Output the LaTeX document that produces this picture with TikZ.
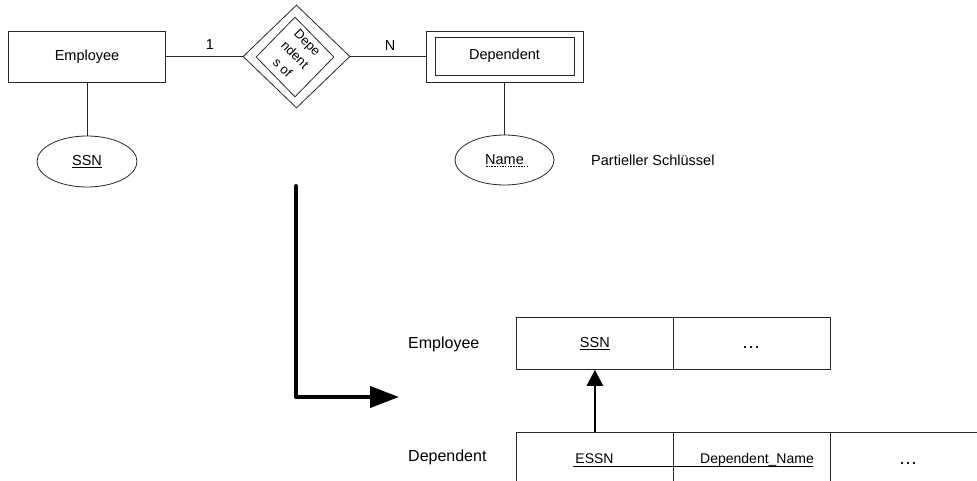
\documentclass[tikz,border=0pt]{standalone}
\usepackage{fontspec}
\setmainfont{Liberation Sans}
\usetikzlibrary{shapes.geometric,arrows.meta,calc}
\begin{document}
\begin{tikzpicture}[x=1pt,y=-1pt,
  thinln/.style={line width=0.8pt, draw=black!85},
  ent/.style={draw=black!85, line width=0.8pt, rectangle, inner sep=0pt, font=\fontsize{14.5}{17}\selectfont},
  attr/.style={draw=black!85, ellipse, line width=0.8pt, inner sep=0pt, font=\fontsize{14.5}{17}\selectfont},
  rel/.style={draw=black!85, diamond, line width=0.8pt, inner sep=0pt},
  lbl/.style={font=\fontsize{14.5}{17}\selectfont, inner sep=0pt},
  dotlbl/.style={font=\fontsize{19}{20}\selectfont, inner sep=0pt},
  biglbl/.style={font=\fontsize{16}{19}\selectfont, inner sep=0pt},
  rowlbl/.style={font=\fontsize{14}{17}\selectfont, inner sep=0pt},
  cell/.style={draw=black!85, line width=0.8pt, rectangle, inner sep=0pt, anchor=north west, font=\fontsize{14.5}{17}\selectfont},
]
\useasboundingbox (0,0) rectangle (977,481);
\clip (0,0) rectangle (977,481);

% ER part
\node[ent, minimum width=157pt, minimum height=51pt] (emp) at (87,56.5) {Employee};
\node[attr, minimum width=100pt, minimum height=51pt] (ssn) at (87,161.5) {\underline{SSN}};
\draw[thinln] (emp) -- (ssn);

\node[rel, minimum width=107pt, minimum height=103pt] (relo) at (296.5,56.5) {};
\node[rel, minimum width=78pt, minimum height=80pt] (reli) at (295,57) {};
\node[inner sep=0pt, rotate=-45, align=center, font=\fontsize{13}{17.5}\selectfont] (reltxt) at (295,55) {Depe\\ndent\\s of};

\node[ent, minimum width=157pt, minimum height=51pt] (dep) at (504.5,56.5) {};
\node[ent, minimum width=139pt, minimum height=38pt] (depin) at (504.5,56) {Dependent};
\node[attr, minimum width=99pt, minimum height=50pt] (nm) at (504.5,160) {Name};
\draw[line width=0.6pt, dash pattern=on 1.5pt off 1.2pt] ($(nm.center)+(-18.5,6)$) -- ++(42,0);
\draw[thinln] (dep) -- (nm);

\draw[thinln] (emp) -- (relo);
\draw[thinln] (relo) -- (dep);
\node[lbl] (one) at (210,45) {1};
\node[lbl] (enn) at (390,46) {N};

\node[lbl, anchor=west] (ps) at (591,160) {Partieller Schlüssel};

% big arrow
\coordinate (ba) at (296,186);
\coordinate (bb) at (399,397);
\draw[line width=4pt, line cap=round, line join=round, -{Triangle[length=29pt,width=21pt]}] (ba) |- (bb);

% relational part
\node[biglbl, anchor=west] (empl) at (408,344) {Employee};
\node[biglbl, anchor=west] (depl) at (408,457) {Dependent};

\node[cell, minimum width=157pt, minimum height=52pt] (c1) at (516,317) {\underline{SSN}};
\node[cell, minimum width=157pt, minimum height=52pt] (c2) at (673,317) {};
\node[dotlbl, anchor=base] (dots1) at (751,348.5) {…};

\node[cell, minimum width=157pt, minimum height=80pt] (d1) at (516,432) {};
\node[cell, minimum width=157pt, minimum height=80pt] (d2) at (673,432) {};
\node[cell, minimum width=200pt, minimum height=80pt] (d3) at (830,432) {};
\node[rowlbl, anchor=base] (essn) at (594.5,463.5) {ESSN};
\node[rowlbl, anchor=base] (dname) at (757,463.5) {Dependent\_Name};
\node[dotlbl, anchor=base] (dots2) at (908,464.5) {…};
\draw[line width=0.8pt] (573,466) -- (813,466);

\draw[line width=2.5pt, -{Triangle[length=16pt,width=16pt]}] (d1.north) -- (c1.south);
\end{tikzpicture}
\end{document}
